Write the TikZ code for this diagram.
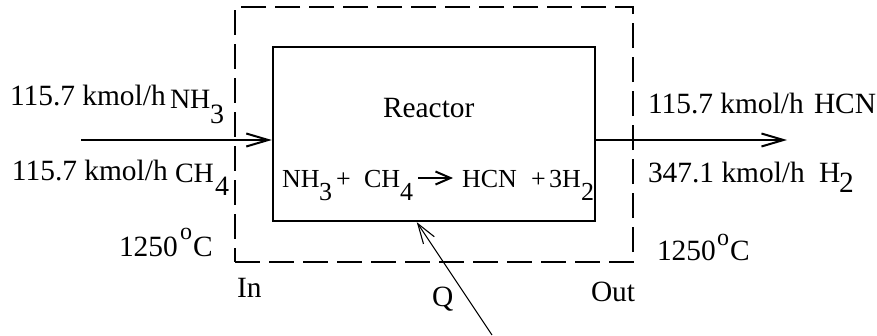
\documentclass[tikz,border=0pt]{standalone}
\usepackage{fontspec}
\setmainfont{Liberation Serif}
\usetikzlibrary{arrows.meta}
\newcommand\mainfs{\fontsize{29.4}{32}\selectfont}
\newcommand\chemfs{\fontsize{28}{30}\selectfont}
\newcommand\rxfs{\fontsize{26}{28}\selectfont}
\newcommand\degfs{\fontsize{24}{26}\selectfont}
\begin{document}
\begin{tikzpicture}[x=1pt,y=-1pt,
  lbl/.style={inner sep=0pt, outer sep=0pt, anchor=base west, font=\mainfs},
  chemlbl/.style={inner sep=0pt, outer sep=0pt, anchor=base west, font=\chemfs},
  rxlbl/.style={inner sep=0pt, outer sep=0pt, anchor=base west, font=\rxfs},
  deglbl/.style={inner sep=0pt, outer sep=0pt, anchor=base west, font=\degfs},
  reactorbox/.style={draw, line width=2.4pt, minimum width=322pt, minimum height=174pt, inner sep=0pt},
  envelope/.style={draw, line width=2pt, dash pattern=on 25pt off 9pt, minimum width=398pt, minimum height=255pt, inner sep=0pt},
  flow/.style={line width=2pt, -{Straight Barb[length=22pt,width=13pt,line width=2pt]}},
  rxarrow/.style={line width=2pt, -{Straight Barb[length=15pt,width=13pt,line width=2pt]}},
  heat/.style={line width=1.1pt, -{Straight Barb[length=20pt,width=13pt,line width=1.1pt]}}
]
\useasboundingbox (0,0) rectangle (877,335);

\node[envelope] (env) at (434,134.5) {};
\node[reactorbox] (reactor) at (434,134) {};

% streams
\coordinate (instart) at (81,140);
\coordinate (outend) at (787,140);
\draw[flow] (instart) -- (instart -| reactor.west);
\draw[flow] (outend -| reactor.east) -- (outend);

% heat
\coordinate (qtail) at (492,335);
\path (reactor.south west) ++(145,0) coordinate (qtip);
\draw[heat] (qtail) -- (qtip);

% left labels
\node[lbl] (inA) at (10,105) {115.7 kmol/h};
\node[chemlbl] (inAf) at (170,108) {NH};
\node[chemlbl] (inAs) at (210,123) {3};
\node[lbl] (inB) at (12,180) {115.7 kmol/h};
\node[chemlbl] (inBf) at (175,182) {CH};
\node[chemlbl] (inBs) at (215,195) {4};
\node[lbl] (inT) at (119,256) {1250};
\node[deglbl] (inTo) at (180,239) {o};
\node[lbl] (inTc) at (193,256) {C};
\node[lbl] (inlbl) at (237,297) {In};

% right labels
\node[lbl] (outA) at (648,113) {115.7 kmol/h};
\node[lbl] (outAf) at (814,113) {HCN};
\node[lbl] (outB) at (648,182) {347.1 kmol/h};
\node[lbl] (outBf) at (819,182) {H};
\node[lbl] (outBs) at (839,192) {2};
\node[lbl] (outT) at (657,260) {1250};
\node[deglbl] (outTo) at (717,245) {o};
\node[lbl] (outTc) at (730,260) {C};
\node[lbl] (outlbl) at (591,301) {Out};

\node[lbl] (qlbl) at (432,306) {Q};
\node[lbl] (rname) at (383,117) {Reactor};

% reaction
\node[rxlbl] (r1) at (282,187) {NH};
\node[rxlbl] (r1s) at (319,200) {3};
\node[rxlbl] (rp1) at (336,187) {+};
\node[rxlbl] (r2) at (364,187) {CH};
\node[rxlbl] (r2s) at (400,200) {4};
\coordinate (rxa) at (418,178);
\coordinate (rxb) at (453,178);
\draw[rxarrow] (rxa) -- (rxb);
\node[rxlbl] (p1) at (462,187) {HCN};
\node[rxlbl] (rp2) at (531,187) {+};
\node[rxlbl] (p2) at (549,187) {3H};
\node[rxlbl] (p2s) at (581,200) {2};
\end{tikzpicture}
\end{document}
